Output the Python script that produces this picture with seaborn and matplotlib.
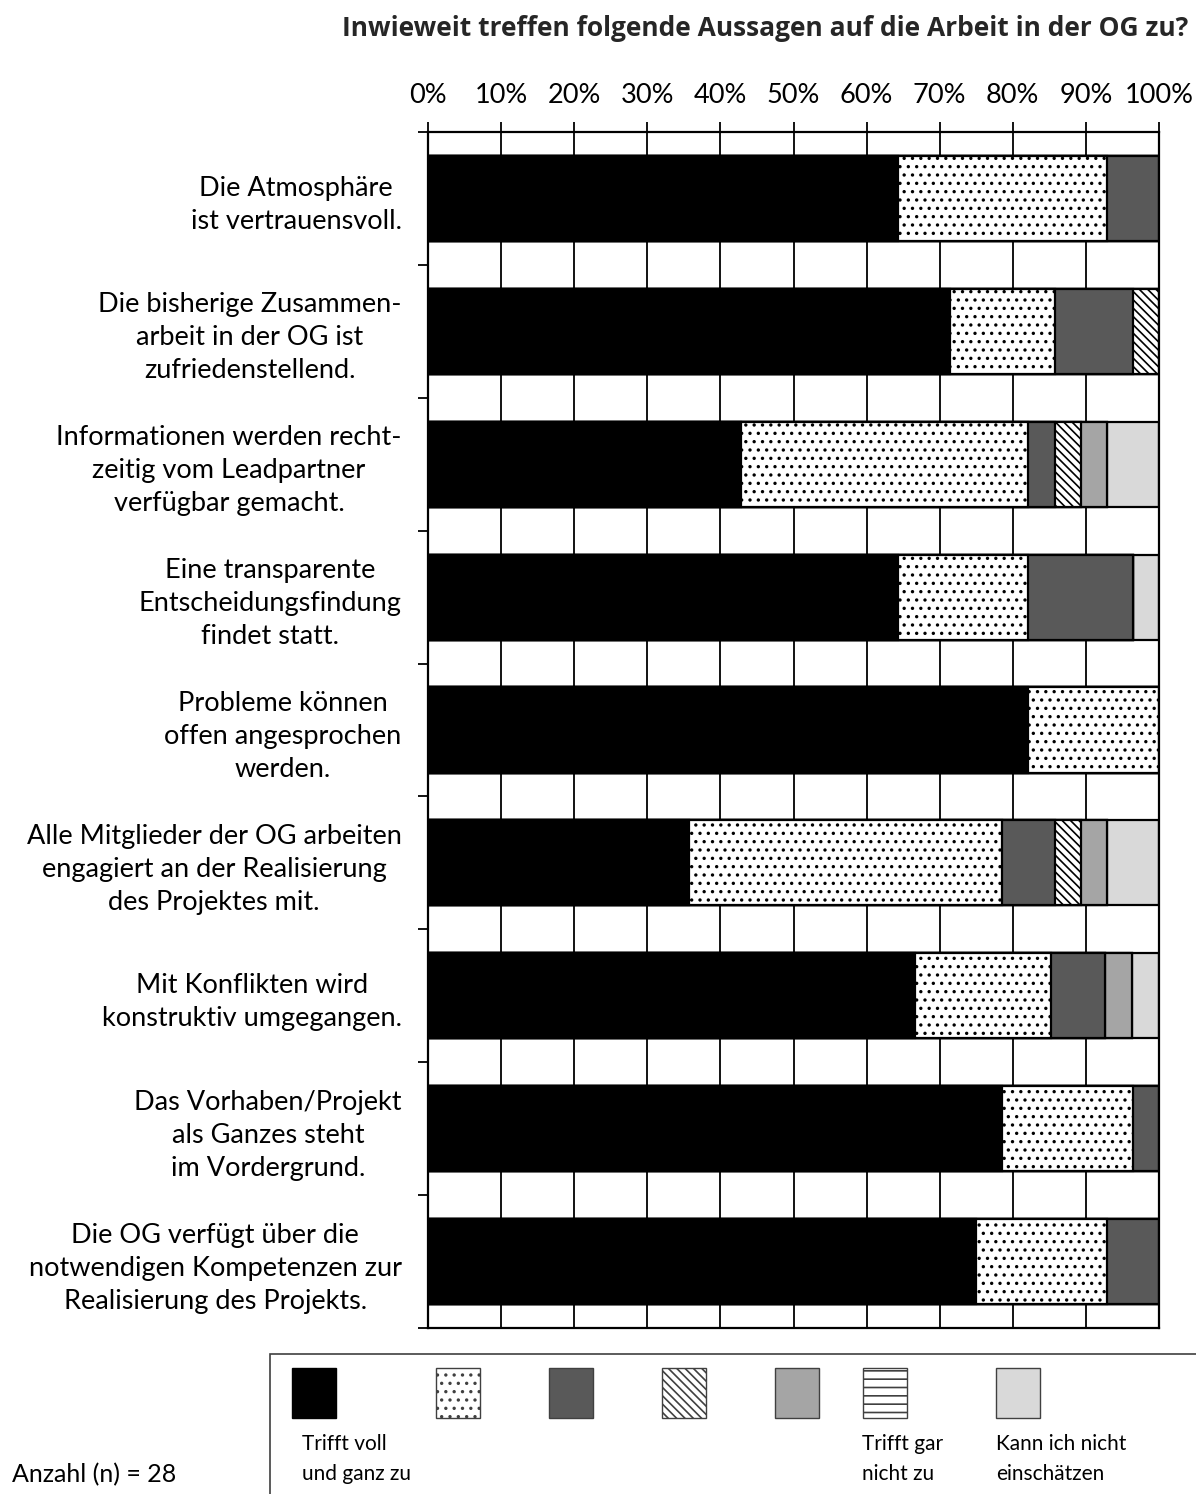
import numpy as np
import pandas as pd
import seaborn as sns
import matplotlib.pyplot as plt
from matplotlib.patches import Rectangle
from matplotlib.ticker import MultipleLocator, FixedLocator, PercentFormatter

# Statements (y categories)
statements = [
    "Die Atmosphäre\nist vertrauensvoll.",
    "Die bisherige Zusammen-\narbeit in der OG ist\nzufriedenstellend.",
    "Informationen werden recht-\nzeitig vom Leadpartner\nverfügbar gemacht.",
    "Eine transparente\nEntscheidungsfindung\nfindet statt.",
    "Probleme können\noffen angesprochen\nwerden.",
    "Alle Mitglieder der OG arbeiten\nengagiert an der Realisierung\ndes Projektes mit.",
    "Mit Konflikten wird\nkonstruktiv umgegangen.",
    "Das Vorhaben/Projekt\nals Ganzes steht\nim Vordergrund.",
    "Die OG verfügt über die\nnotwendigen Kompetenzen zur\nRealisierung des Projekts.",
]

# Answer counts per statement, scale point 1 (full agreement) ... 6, then "can't say"
scale_1 = [18, 20, 12, 18, 23, 10, 18, 22, 21]
scale_2 = [8, 4, 11, 5, 5, 12, 5, 5, 5]
scale_3 = [2, 3, 1, 4, 0, 2, 2, 1, 2]
scale_4 = [0, 1, 1, 0, 0, 1, 0, 0, 0]
scale_5 = [0, 0, 1, 0, 0, 1, 1, 0, 0]
scale_6 = [0, 0, 0, 0, 0, 0, 0, 0, 0]
cant_say = [0, 0, 2, 1, 0, 2, 1, 0, 0]

legend_labels = ["Trifft voll\nund ganz zu", "", "", "", "",
                 "Trifft gar\nnicht zu", "Kann ich nicht\neinschätzen"]
n_total = 28

series = [scale_1, scale_2, scale_3, scale_4, scale_5, scale_6, cant_say]
styles = [
    dict(color="#000000", hatch=None),
    dict(color="#ffffff", hatch=".."),
    dict(color="#595959", hatch=None),
    dict(color="#ffffff", hatch="\\\\\\\\"),
    dict(color="#a5a5a5", hatch=None),
    dict(color="#ffffff", hatch="--"),
    dict(color="#d9d9d9", hatch=None),
]

counts = np.array(series, dtype=float)          # (7, 9)
shares = counts / counts.sum(axis=0) * 100.0      # percent per statement
cum = np.cumsum(shares, axis=0)

sns.set_theme(style="white")
plt.rcParams["font.family"] = ["Lato", "DejaVu Sans"]
plt.rcParams["hatch.linewidth"] = 1.2

W, H = 1196, 1494
fig = plt.figure(figsize=(W / 100, H / 100), dpi=100)
ax = fig.add_axes([428 / W, 1 - 1328 / H, (1159 - 428) / W, (1328 - 132) / H])

df_rows = []
for k in range(len(series)):
    for i, s in enumerate(statements):
        df_rows.append(dict(statement=s, level=k, cum=cum[k, i]))
df = pd.DataFrame(df_rows)

# Stacked bars: draw cumulative totals from the outermost segment inwards
for k in reversed(range(len(series))):
    sub = df[df["level"] == k]
    sns.barplot(data=sub, x="cum", y="statement", order=statements,
                orient="h", color=styles[k]["color"], saturation=1,
                width=0.64, edgecolor="black", linewidth=1.6,
                hatch=styles[k]["hatch"], ax=ax, zorder=3)

ax.set_xlim(0, 100)
ax.set_ylim(len(statements) - 0.5, -0.5)
ax.set_xlabel("")
ax.set_ylabel("")

# x axis on top with percent ticks
ax.xaxis.set_major_locator(MultipleLocator(10))
ax.xaxis.set_major_formatter(PercentFormatter(decimals=0))
ax.xaxis.tick_top()
ax.tick_params(axis="x", which="major", direction="out", length=7, width=1.3,
               color="black", pad=10, labelsize=19.5, labelcolor="black",
               top=True, bottom=False)
ax.grid(axis="x", color="black", linewidth=1.3, zorder=0)
ax.grid(axis="y", visible=False)
ax.set_axisbelow(True)

# y axis: labels at bar centres, tick marks at category boundaries
ax.set_yticks(range(len(statements)))
ax.set_yticklabels(statements, multialignment="center", linespacing=1.4)
ax.tick_params(axis="y", which="major", length=0, pad=19, labelsize=19.5,
               labelcolor="black")
ax.yaxis.set_minor_locator(FixedLocator(np.arange(-0.5, len(statements), 1.0)))
ax.tick_params(axis="y", which="minor", direction="out", length=7, width=1.3,
               color="black", left=True)

for side in ["top", "bottom", "left", "right"]:
    ax.spines[side].set_visible(True)
    ax.spines[side].set_color("black")
    ax.spines[side].set_linewidth(1.6)
    ax.spines[side].set_zorder(4)

# Title
fig.text(1188 / W, 1 - 29 / H, "Inwieweit treffen folgende Aussagen auf die Arbeit in der OG zu?",
         ha="right", va="center", fontsize=19, fontweight="bold",
         family=["Open Sans", "DejaVu Sans"])

# Legend panel in pixel coordinates
lg = fig.add_axes([0, 0, 1, 1], zorder=5)
lg.set_xlim(0, W)
lg.set_ylim(H, 0)
lg.axis("off")
lg.add_patch(Rectangle((270, 1354), W, 200, facecolor="white",
                       edgecolor="#404040", linewidth=1.2))
patch_x = [292, 436, 549, 662, 775, 863, 996]
for k, x0 in enumerate(patch_x):
    lg.add_patch(Rectangle((x0, 1368), 44, 50, facecolor=styles[k]["color"],
                           edgecolor="#404040" if k else "black", linewidth=1.0,
                           hatch=styles[k]["hatch"]))
text_x = [302, None, None, None, None, 862, 996]
for k, lab in enumerate(legend_labels):
    if lab:
        lg.text(text_x[k], 1459, lab, ha="left", va="center", fontsize=15,
                linespacing=1.65, color="black")

fig.text(12 / W, 1 - 1475 / H, f"Anzahl (n) = {n_total}", ha="left", va="center",
         fontsize=18, color="black")

fig.savefig("out.png", dpi=100, facecolor="white")
